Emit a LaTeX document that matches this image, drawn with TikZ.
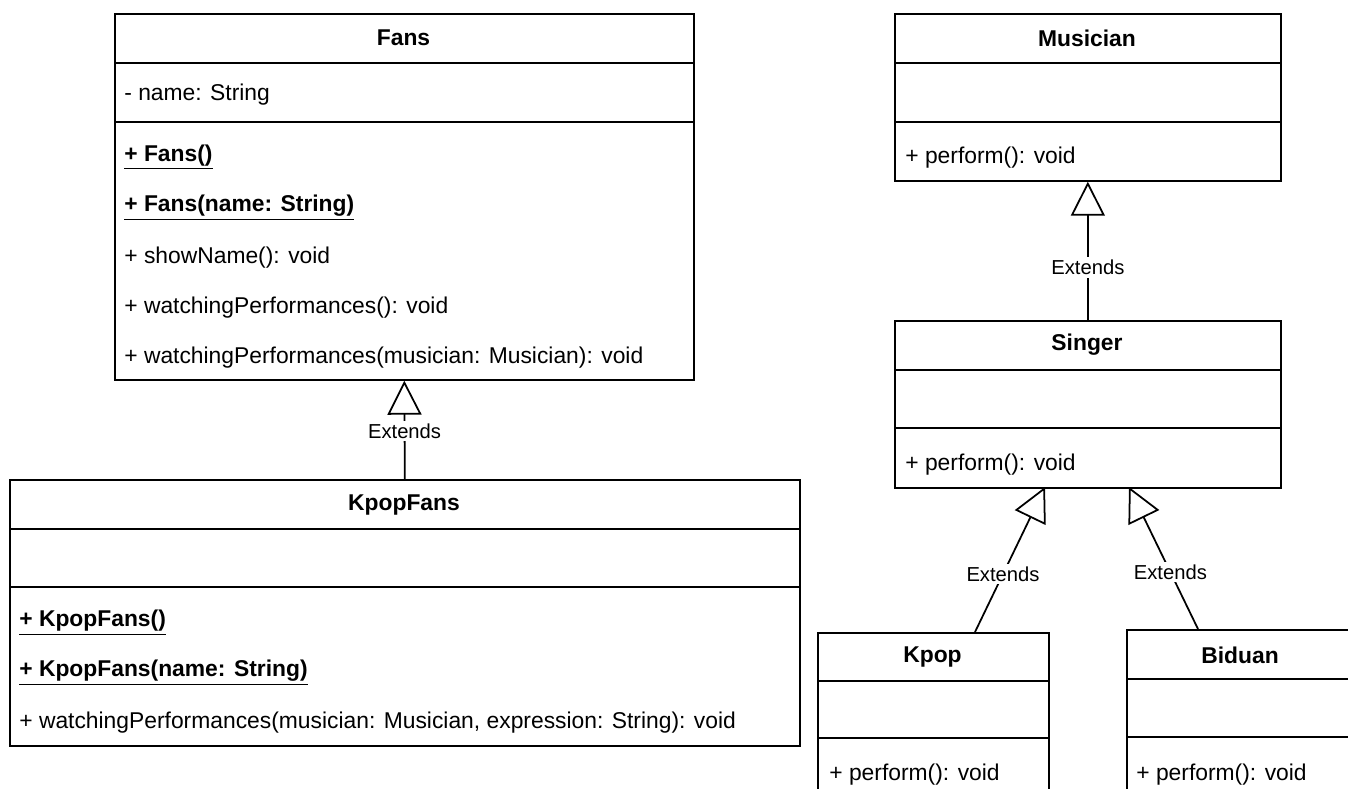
\documentclass[tikz,border=0pt]{standalone}
\usepackage{fontspec}
\setmainfont{Liberation Sans}
\usetikzlibrary{arrows.meta,positioning}

\tikzset{
  classbox/.style={draw, line width=1pt, anchor=north west, inner sep=0pt},
  sepline/.style={line width=1pt},
  member/.style={anchor=west, inner sep=0pt, yshift=-0.05cm, font=\fontsize{13}{15}\selectfont},
  classname/.style={inner sep=0pt, font=\fontsize{13}{15}\selectfont\bfseries},
  extends/.style={line width=1pt, -{Triangle[open, length=6.8mm, width=6.8mm]}},
  extlabel/.style={fill=white, inner sep=1.5pt, font=\fontsize{11.5}{13}\selectfont},
}

\begin{document}
\begin{tikzpicture}[x=0.02cm, y=-0.02cm]
    \useasboundingbox (0,0) rectangle (1348,788);
    \clip (0,0) rectangle (1348,788);

    % Fans class
    \node[classbox, minimum width=11.58cm, minimum height=7.32cm] (fans) at (114,13) {};
    \draw[sepline] (fans.north west) ++(0,50) -- ++(579,0);
    \draw[sepline] (fans.north west) ++(0,109) -- ++(579,0);
    \node[classname] (fansname) at (403.5,38) {Fans};
    \node[member] (fansattr) at (124,92) {- name: String};
    \node[member] (fansm1) at (124,155) {\textbf{\underline{+ Fans()}}};
    \node[member] (fansm2) at (124,205) {\textbf{\underline{+ Fans(name: String)}}};
    \node[member] (fansm3) at (124,255) {+ showName(): void};
    \node[member] (fansm4) at (124,305) {+ watchingPerformances(): void};
    \node[member] (fansm5) at (124,355) {+ watchingPerformances(musician: Musician): void};

    % KpopFans class
    \node[classbox, minimum width=15.8cm, minimum height=5.32cm] (kpopfans) at (9,479) {};
    \draw[sepline] (kpopfans.north west) ++(0,50) -- ++(790,0);
    \draw[sepline] (kpopfans.north west) ++(0,108) -- ++(790,0);
    \node[classname] (kpopfansname) at (404,505) {KpopFans};
    \node[member] (kpopfansm1) at (19,620) {\textbf{\underline{+ KpopFans()}}};
    \node[member] (kpopfansm2) at (19,670) {\textbf{\underline{+ KpopFans(name: String)}}};
    \node[member] (kpopfansm3) at (19,720) {+ watchingPerformances(musician: Musician, expression: String): void};

    % Musician class
    \node[classbox, minimum width=7.72cm, minimum height=3.34cm] (musician) at (894,13) {};
    \draw[sepline] (musician.north west) ++(0,50) -- ++(386,0);
    \draw[sepline] (musician.north west) ++(0,109) -- ++(386,0);
    \node[classname] (musicianname) at (1087,38) {Musician};
    \node[member] (musicianm1) at (905,155) {+ perform(): void};

    % Singer class
    \node[classbox, minimum width=7.72cm, minimum height=3.34cm] (singer) at (894,320) {};
    \draw[sepline] (singer.north west) ++(0,50) -- ++(386,0);
    \draw[sepline] (singer.north west) ++(0,108) -- ++(386,0);
    \node[classname] (singername) at (1087,345) {Singer};
    \node[member] (singerm1) at (905,462) {+ perform(): void};

    % Kpop class (runs off the bottom)
    \node[classbox, minimum width=4.62cm, minimum height=4cm] (kpop) at (817,632) {};
    \draw[sepline] (kpop.north west) ++(0,49) -- ++(231,0);
    \draw[sepline] (kpop.north west) ++(0,106) -- ++(231,0);
    \node[classname] (kpopname) at (932.5,657) {Kpop};
    \node[member] (kpopm1) at (829,772) {+ perform(): void};

    % Biduan class (runs off the right and bottom)
    \node[classbox, minimum width=6cm, minimum height=4cm] (biduan) at (1126,629) {};
    \draw[sepline] (biduan.north west) ++(0,50) -- ++(300,0);
    \draw[sepline] (biduan.north west) ++(0,108) -- ++(300,0);
    \node[classname] (biduanname) at (1240,655) {Biduan};
    \node[member] (biduanm1) at (1136,772) {+ perform(): void};

    % attachment points of the slanted connectors
    \coordinate (kpopin) at (975,632);
    \coordinate (biduanin) at (1198,629);
    \coordinate (singerleft) at (1045,487);
    \coordinate (singerright) at (1129,487);

    % Generalisations
    \draw[extends] (kpopfans.north) -- node[extlabel, pos=0.49] (ext1) {Extends} (fans.south);
    \draw[extends] (singer.north) -- node[extlabel, pos=0.38] (ext2) {Extends} (musician.south);
    \draw[extends] (kpopin) -- node[extlabel, pos=0.40] (ext3) {Extends} (singerleft);
    \draw[extends] (biduanin) -- node[extlabel, pos=0.40] (ext4) {Extends} (singerright);
\end{tikzpicture}
\end{document}
